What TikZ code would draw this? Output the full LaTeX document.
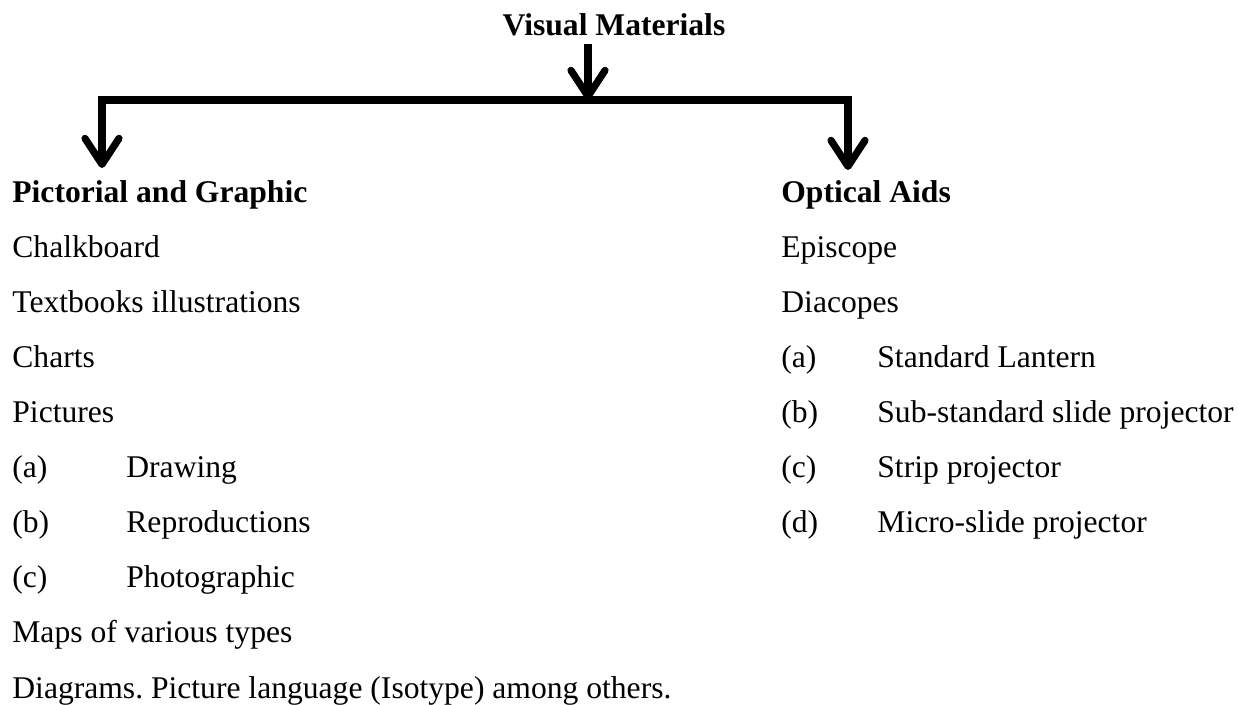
\documentclass[tikz,border=0pt]{standalone}
\usepackage{fontspec}
\setmainfont{Liberation Serif}
\frenchspacing
\usetikzlibrary{arrows.meta}
\tikzset{
	item/.style={anchor=base west, inner sep=0pt, font=\fontsize{15.8}{19}\selectfont},
	head/.style={item, font=\fontsize{15.8}{19}\selectfont\bfseries},
	bar/.style={line width=3.6pt, line join=miter},
	vtip/.tip={Straight Barb[length=13pt, width=17pt, line cap=round, line join=round]}
}
\begin{document}
\begin{tikzpicture}[x=0.5pt, y=-0.5pt]
		\useasboundingbox (0,0) rectangle (1238,705);
		\node[head, anchor=base] (vm) at (614,36) {Visual Materials};
		% left column
		\node[head] (pg) at (12,203) {Pictorial and Graphic};
		\node[item] (chalk) at (12,258) {Chalkboard};
		\node[item] (text) at (12,313) {Textbooks illustrations};
		\node[item] (charts) at (12,368) {Charts};
		\node[item] (pics) at (12,423) {Pictures};
		\node[item] (pa) at (12,478) {(a)};
		\node[item] (pb) at (12,533) {(b)};
		\node[item] (pc) at (12,588) {(c)};
		\node[item] (draw) at (126,478) {Drawing};
		\node[item] (repro) at (126,533) {Reproductions};
		\node[item] (photo) at (126,588) {Photographic};
		\node[item] (maps) at (12,643) {Maps of various types};
		\node[item] (diag) at (12,698) {Diagrams. Picture language (Isotype) among others.};
		% right column
		\node[head] (oa) at (781,203) {Optical Aids};
		\node[item] (epi) at (781,258) {Episcope};
		\node[item] (dia) at (781,313) {Diacopes};
		\foreach \y/\l/\t in {368/a/Standard Lantern, 423/b/Sub-standard slide projector, 478/c/Strip projector, 533/d/Micro-slide projector} {
			\node[item] (o\l) at (781,\y) {(\l)};
			\node[item] (ot\l) at (877,\y) {\t};
		}
		% arrows
		\coordinate (top) at (588,44);
		\coordinate (mid) at (588,100);
		\coordinate (lc) at (102,100);
		\coordinate (rc) at (848,100);
		\coordinate (lt) at (102,168);
		\coordinate (rt) at (848,170);
		\draw[bar, -vtip] (top) -- (mid);
		\draw[bar, vtip-vtip] (lt) -- (lc) -- (rc) -- (rt);
	\end{tikzpicture}
\end{document}
